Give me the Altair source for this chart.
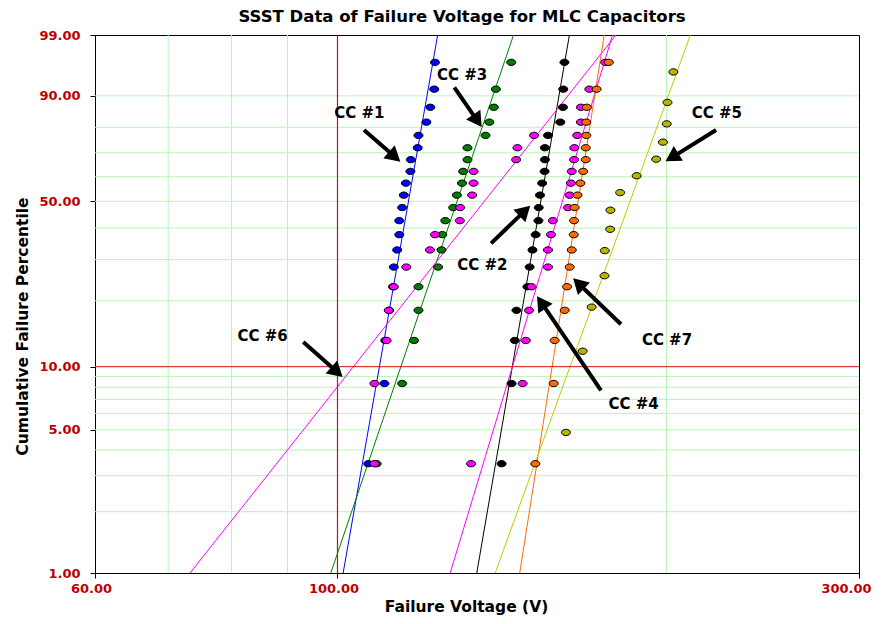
import math
import altair as alt
import pandas as pd

# ---------------- data ----------------
# median-rank plotting positions (%)
pct20 = [3.43, 8.33, 13.24, 18.14, 23.04, 27.94, 32.84, 37.75, 42.65, 47.55,
         52.45, 57.35, 62.25, 67.16, 72.06, 76.96, 81.86, 86.76, 91.67, 96.57]
pct14 = [4.86, 11.81, 18.75, 25.69, 32.64, 39.58, 46.53, 53.47, 60.42, 67.36,
         74.31, 81.25, 88.19, 95.14]

cc1 = [106.7, 110.4, 110.6, 111.5, 112.4, 112.6, 113.4, 113.9, 113.9, 114.6,
       115.0, 115.5, 116.6, 116.7, 118.4, 118.6, 120.6, 121.6, 122.6, 122.8]
cc3 = [108.6, 114.6, 117.5, 118.6, 118.6, 123.6, 124.5, 124.7, 125.5, 127.6,
       128.6, 130.0, 130.3, 131.5, 131.5, 136.6, 137.7, 139.0, 139.6, 144.2]
cc2 = [141.3, 144.3, 145.3, 145.8, 149.2, 149.9, 150.8, 151.8, 152.7, 152.8,
       153.2, 153.9, 154.7, 154.8, 154.8, 155.8, 159.9, 160.8, 160.9, 161.3]
cc6 = [108.1, 108.1, 110.9, 111.4, 112.6, 115.6, 121.5, 122.8, 129.4, 129.5,
       132.8, 133.2, 133.2, 145.7, 146.1, 151.3]
cc4 = [132.5, 147.7, 148.7, 149.7, 150.5, 155.8, 155.8, 156.8, 157.4, 162.5,
       163.1, 163.5, 163.8, 164.6, 164.7, 165.7, 167.0, 167.0, 170.0, 175.8]
cc7 = [151.7, 157.7, 158.0, 161.4, 162.2, 163.1, 163.8, 164.5, 164.6, 164.8,
       165.8, 166.8, 167.8, 168.7, 168.7, 168.9, 168.9, 169.1, 172.6, 177.1]
cc5 = [161.8, 167.6, 170.8, 175.5, 175.6, 177.6, 177.7, 181.4, 187.8, 195.7,
       198.5, 200.1, 200.4, 202.9]

series_names = ["CC #1", "CC #3", "CC #2", "CC #6", "CC #4", "CC #7", "CC #5"]
series_vals = [cc1, cc3, cc2, cc6, cc4, cc7, cc5]
series_pct = [pct20, pct20, pct20, pct20, pct20, pct20, pct14]

# fitted Weibull lines: voltage at 1 % and at 99 %
fit_lo = [101.2, 98.6, 134.1, 73.3, 126.8, 146.8, 139.4]
fit_hi = [123.5, 144.9, 163.0, 179.8, 178.5, 175.4, 210.3]

point_colors = ["#0000ff", "#007a00", "#000000", "#ff00ff", "#ff00ff", "#ff6a00", "#b5b500"]
line_colors = ["#0000ff", "#008000", "#000000", "#ff00ff", "#ff00ff", "#ff6a00", "#c8c800"]

# grid
hgrid_pct = [2, 3, 4, 5, 6, 7, 8, 9, 20, 30, 40, 50, 60, 70, 80, 90]
vgrid_v = [70, 80, 90, 200]
red_pct = [10]
red_v = [100]
y_ticks_pct = [1, 5, 10, 50, 90, 99]
x_ticks_v = [60, 100, 300]

# annotations: label, text (V, %), arrow tail (V, %), arrow tip (V, %)
annotations = [
    ("CC #1", 104.7, 85.1, 105.75, 79.0, 113.7, 67.0),
    ("CC #3", 130.0, 94.6, 127.9, 92.1, 135.1, 80.84),
    ("CC #5", 222.4, 85.1, 222.0, 79.0, 200.5, 67.0),
    ("CC #2", 135.7, 28.5, 138.2, 34.9, 149.5, 47.6),
    ("CC #6", 85.4, 13.88, 93.05, 13.03, 100.7, 9.11),
    ("CC #7", 200.2, 13.24, 181.7, 15.70, 164.9, 24.63),
    ("CC #4", 186.6, 6.62, 174.2, 7.73, 152.7, 20.52),
]

# ---------------- scales ----------------
W, H = 764, 538
XMIN, XMAX = 60.0, 300.0


def wb(p):
    return math.log(-math.log(1 - p / 100.0))


def wb_inv(y):
    return 100.0 * (1 - math.exp(-math.exp(y)))


YBOT, YTOP = wb(1), wb(99)


def xpx(v):
    return W * math.log(v / XMIN) / math.log(XMAX / XMIN)


def ypx(p):
    return H * (YTOP - wb(p)) / (YTOP - YBOT)


def px2v(x):
    return XMIN * math.exp(x / W * math.log(XMAX / XMIN))


def px2p(y):
    return wb_inv(YTOP - y / H * (YTOP - YBOT))


# ---------------- tables ----------------
pts = []
for name, vals, pcts in zip(series_names, series_vals, series_pct):
    for v, p in zip(vals, pcts):
        pts.append({"series": name, "v": v, "y": wb(p)})
pts = pd.DataFrame(pts)

lines = pd.DataFrame({"series": series_names, "v": fit_lo, "v2": fit_hi,
                      "y": [wb(1)] * 7, "y2": [wb(99)] * 7})

hgrid = pd.DataFrame({"y": [wb(p) for p in hgrid_pct]})
vgrid = pd.DataFrame({"v": vgrid_v, "y": [YBOT] * len(vgrid_v), "y2": [YTOP] * len(vgrid_v)})
hred = pd.DataFrame({"y": [wb(p) for p in red_pct]})
vred = pd.DataFrame({"v": red_v, "y": [YBOT] * len(red_v), "y2": [YTOP] * len(red_v)})

HEAD = 300  # arrow head symbol size
head_h = 0.433 * math.sqrt(HEAD)
txt, shafts, heads = [], [], []
for lab, tv, tp, av, ap, bv, bp in annotations:
    txt.append({"label": lab, "v": tv, "y": wb(tp)})
    x0, y0, x1, y1 = xpx(av), ypx(ap), xpx(bv), ypx(bp)
    dx, dy = x1 - x0, y1 - y0
    L = math.hypot(dx, dy)
    ux, uy = dx / L, dy / L
    cx, cy = x1 - ux * head_h, y1 - uy * head_h
    ang = (math.degrees(math.atan2(dx, -dy)) + 360) % 360
    shafts.append({"v": av, "y": wb(ap), "v2": px2v(cx), "y2": wb(px2p(cy))})
    heads.append({"v": px2v(cx), "y": wb(px2p(cy)), "ang": ang})
txt = pd.DataFrame(txt)
shafts = pd.DataFrame(shafts)
heads = pd.DataFrame(heads)

# ---------------- chart ----------------
FONT = "DejaVu Sans"
RED = "#c00000"

xscale = alt.Scale(type="log", domain=[XMIN, XMAX], nice=False)
yscale = alt.Scale(domain=[YBOT, YTOP], nice=False, zero=False)

xaxis = alt.Axis(values=x_ticks_v, format=".2f", title="Failure Voltage (V)",
                 grid=False, labelColor=RED, labelFont=FONT, labelFontSize=13,
                 labelFontWeight="bold", titleFont=FONT, titleFontSize=15.5,
                 titleFontWeight="bold", titleColor="#000", domainColor="#000",
                 tickColor="#000", tickSize=5, labelPadding=4, titlePadding=4,
                 titleX=W / 2 - 11,
                 labelOffset=alt.ExprRef(expr="datum.value >= 300 ? -13 : -4"),
                 labelFlush=False, labelOverlap=False)
yaxis = alt.Axis(values=[wb(p) for p in y_ticks_pct],
                 labelExpr="format(100*(1-exp(-exp(datum.value))), '.2f')",
                 title="Cumulative Failure Percentile", grid=False, labelColor=RED,
                 labelFont=FONT, labelFontSize=13, labelFontWeight="bold",
                 titleFont=FONT, titleFontSize=15.5, titleFontWeight="bold",
                 titleColor="#000", domainColor="#000", tickColor="#000",
                 tickSize=5, labelPadding=10, titlePadding=8, titleY=H / 2 + 22,
                 labelOverlap=False)

X = alt.X("v:Q", scale=xscale, axis=xaxis)
Y = alt.Y("y:Q", scale=yscale, axis=yaxis)

GREEN_GRID = "#b8f5b8"
RED_LINE = "#d01010"

grid_h = alt.Chart(hgrid).mark_rule(stroke=GREEN_GRID, strokeWidth=1).encode(y=Y)
grid_v = alt.Chart(vgrid).mark_rule(stroke=GREEN_GRID, strokeWidth=1).encode(x=X, y=Y, y2="y2:Q")
red_h = alt.Chart(hred).mark_rule(stroke=RED_LINE, strokeWidth=1).encode(y=Y)
red_vv = alt.Chart(vred).mark_rule(stroke=RED_LINE, strokeWidth=1.2).encode(x=X, y=Y, y2="y2:Q")

fit = alt.Chart(lines).mark_rule(strokeWidth=1).encode(
    x=X, x2="v2:Q", y=Y, y2="y2:Q",
    color=alt.Color("series:N", scale=alt.Scale(domain=series_names, range=line_colors), legend=None),
)

ellipse = "M -1 0 A 1 0.7 0 1 0 1 0 A 1 0.7 0 1 0 -1 0 Z"
points = alt.Chart(pts).mark_point(shape=ellipse, filled=True, size=81, stroke="#000",
                                   strokeWidth=1, opacity=1).encode(
    x=X, y=Y,
    fill=alt.Fill("series:N", scale=alt.Scale(domain=series_names, range=point_colors), legend=None),
)

labels = alt.Chart(txt).mark_text(font=FONT, fontSize=15, fontWeight="bold", color="#000",
                                  align="center", baseline="middle").encode(
    x=X, y=Y, text="label:N")

shaft = alt.Chart(shafts).mark_rule(color="#000", strokeWidth=4).encode(
    x=X, x2="v2:Q", y=Y, y2="y2:Q")

head = alt.Chart(heads).mark_point(shape="triangle", filled=True, size=HEAD, color="#000",
                                   opacity=1).encode(
    x=X, y=Y, angle=alt.Angle("ang:Q", scale=None))

chart = alt.layer(grid_h, grid_v, fit, red_h, red_vv, points, shaft, head, labels).resolve_scale(
    color="independent", fill="independent"
).properties(
    width=W, height=H,
    title=alt.TitleParams("SSST Data of Failure Voltage for MLC Capacitors", font=FONT,
                          fontSize=16.5, fontWeight="bold", color="#000", anchor="middle",
                          dx=-15, offset=4),
    autosize=alt.AutoSizeParams(type="none"),
    padding={"left": 87, "top": 27, "right": 15, "bottom": 43},
).configure(background="white").configure_view(stroke="#000", strokeWidth=1)

chart.save("out.html", embed_options={"renderer": "svg", "actions": False})
